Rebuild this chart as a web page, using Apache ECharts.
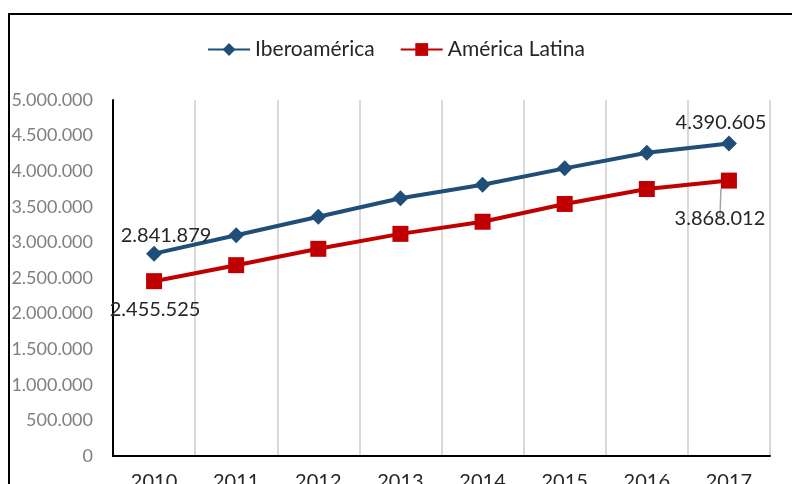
<!DOCTYPE html>
<html lang="es">
<head>
    <meta charset="UTF-8">
    <title>Iberoamérica / América Latina</title>
    <script src="https://cdn.jsdelivr.net/npm/echarts@6/dist/echarts.min.js"></script>
    <style>
        html, body { margin: 0; padding: 0; background: #fff; }
        #chart1 { width: 792px; height: 484px; }
    </style>
</head>
<body>
    <div id="chart1"></div>
<script type="text/javascript">
    // datos
    var years = ['2010', '2011', '2012', '2013', '2014', '2015', '2016', '2017'];
    var ibero = [2841879, 3100000, 3360000, 3620000, 3810000, 4040000, 4260000, 4390605];
    var latina = [2455525, 2680000, 2910000, 3120000, 3290000, 3540000, 3750000, 3868012];
    var yTicks = [0, 500000, 1000000, 1500000, 2000000, 2500000, 3000000, 3500000, 4000000, 4500000, 5000000];

    var FONT = 'Lato';

    function fmt(v) {
        return String(v).replace(/\B(?=(\d{3})+(?!\d))/g, '.');
    }

    // solo primer y ultimo punto llevan etiqueta
    function withLabels(arr, first, last, lastLine) {
        return arr.map(function (v, i) {
            if (i === 0) return { value: v, label: first };
            if (i === arr.length - 1) {
                var item = { value: v, label: last };
                if (lastLine) item.labelLine = lastLine;
                return item;
            }
            return v;
        });
    }

    var lblBase = {
        show: true,
        fontFamily: FONT,
        fontSize: 20,
        color: '#262626',
        formatter: function (p) { return fmt(p.value); }
    };

    var chart = echarts.init(document.getElementById('chart1'));
    var option = {
        animation: false,
        backgroundColor: '#fff',
        graphic: [{
            type: 'rect',
            shape: { x: 9, y: 14, width: 800, height: 500 },
            style: { fill: 'none', stroke: '#000', lineWidth: 2 },
            silent: true
        }],
        legend: {
            top: 34,
            left: 'center',
            itemWidth: 42,
            itemHeight: 16,
            itemGap: 25,
            textStyle: { fontFamily: FONT, fontSize: 21, color: '#262626' },
            data: ['Iberoamérica', 'América Latina']
        },
        grid: { left: 113, right: 22, top: 100, bottom: 28, outerBoundsMode: 'none' },
        xAxis: {
            type: 'category',
            data: years,
            boundaryGap: true,
            axisLine: { lineStyle: { color: '#000', width: 2 } },
            axisTick: { show: false },
            splitLine: { show: true, lineStyle: { color: '#d9d9d9', width: 2 } },
            axisLabel: { fontFamily: FONT, fontSize: 20, color: '#262626', margin: 16 }
        },
        yAxis: {
            type: 'value',
            min: yTicks[0],
            max: yTicks[yTicks.length - 1],
            interval: yTicks[1] - yTicks[0],
            axisLine: { show: true, lineStyle: { color: '#000', width: 2 } },
            axisTick: { show: false },
            splitLine: { show: false },
            axisLabel: {
                fontFamily: FONT, fontSize: 18, color: '#7f7f7f', margin: 20,
                formatter: function (v) { return fmt(v); }
            }
        },
        series: [
            {
                name: 'Iberoamérica',
                type: 'line',
                data: withLabels(ibero,
                    Object.assign({}, lblBase, { position: 'top', offset: [12, 5] }),
                    Object.assign({}, lblBase, { position: 'top', offset: [-8, 2] })),
                color: '#1f4e79',
                symbol: 'diamond',
                symbolSize: 16,
                lineStyle: { width: 4 },
                label: { show: false },
                z: 3
            },
            {
                name: 'América Latina',
                type: 'line',
                data: withLabels(latina,
                    Object.assign({}, lblBase, { position: 'bottom', offset: [1, 5] }),
                    Object.assign({}, lblBase, { position: 'bottom', offset: [-9, 15] }),
                    { show: true, lineStyle: { color: '#a6a6a6', width: 1.5 } }),
                color: '#c00000',
                symbol: 'rect',
                symbolSize: 16,
                lineStyle: { width: 4 },
                label: { show: false },
                z: 2
            }
        ]
    };
    chart.setOption(option);
</script>
</body>
</html>
